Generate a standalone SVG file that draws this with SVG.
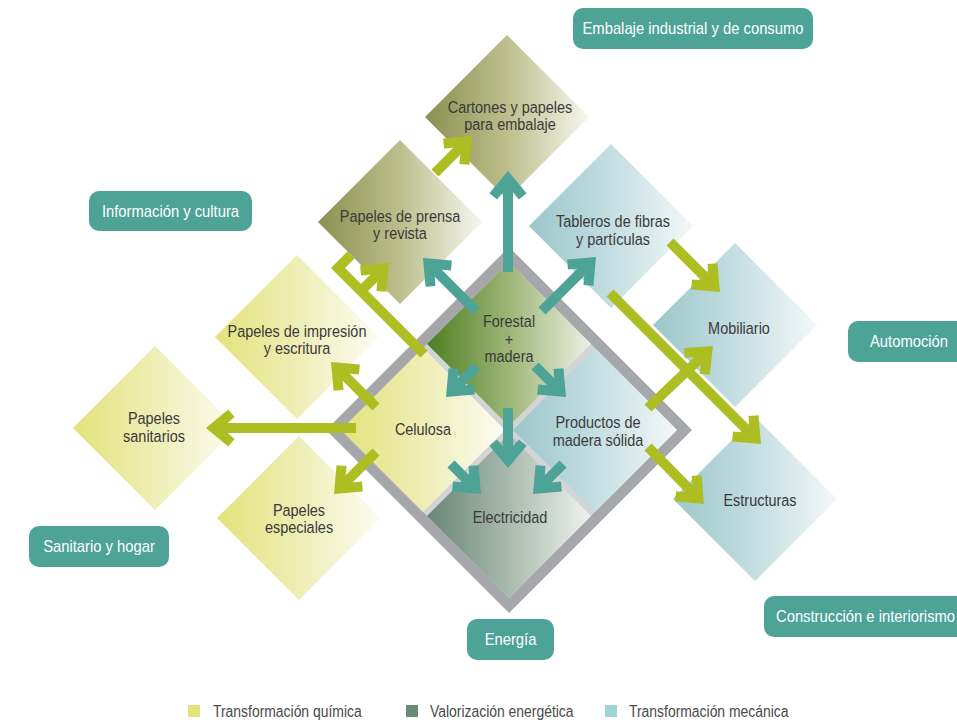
<svg xmlns="http://www.w3.org/2000/svg" width="957" height="722" viewBox="0 0 957 722">
<style>
.t{font-family:"Liberation Sans","Arial",sans-serif;font-size:17px;fill:#3a3a3a;text-anchor:middle}
.lb{font-family:"Liberation Sans","Arial",sans-serif;font-size:17px;fill:#ffffff;text-anchor:middle}
.lg{font-family:"Liberation Sans","Arial",sans-serif;font-size:16px;fill:#4a4a4a}
.box{fill:#4da396}
.ct{fill:none;stroke:#4ca396;stroke-width:10;marker-end:url(#hT)}
.cl{fill:none;stroke:#adbe23;stroke-width:10;marker-end:url(#hL)}
.cln{fill:none;stroke:#adbe23;stroke-width:10;stroke-linejoin:miter}
</style>
<defs>
<linearGradient id="gOl" x1="0" y1="0" x2="1" y2="0"><stop offset="0" stop-color="#8a9050"/><stop offset="0.5" stop-color="#bcbf8c"/><stop offset="1" stop-color="#f6f6ee"/></linearGradient>
<linearGradient id="gYe" x1="0" y1="0" x2="1" y2="0"><stop offset="0" stop-color="#e2e37b"/><stop offset="0.5" stop-color="#eeeeb6"/><stop offset="1" stop-color="#fcfcf3"/></linearGradient>
<linearGradient id="gTe" x1="0" y1="0" x2="1" y2="0"><stop offset="0" stop-color="#9cc6cb"/><stop offset="0.5" stop-color="#c4dee1"/><stop offset="1" stop-color="#f3f8f8"/></linearGradient>
<linearGradient id="gFo" x1="0" y1="0" x2="1" y2="0"><stop offset="0" stop-color="#4e7e22"/><stop offset="0.5" stop-color="#9db678"/><stop offset="1" stop-color="#eef0e2"/></linearGradient>
<linearGradient id="gEl" x1="0" y1="0" x2="1" y2="0"><stop offset="0" stop-color="#688677"/><stop offset="0.5" stop-color="#a9baae"/><stop offset="1" stop-color="#eff2ee"/></linearGradient>
<marker id="hT" markerUnits="userSpaceOnUse" viewBox="-42 -22 46 44" refX="-12" refY="0" markerWidth="46" markerHeight="44" orient="auto" overflow="visible"><path d="M0,0 L-22.2,-18.6 L-28.6,-10.9 L-15.6,0 L-28.6,10.9 L-22.2,18.6 Z" fill="#4ca396"/></marker>
<marker id="hL" markerUnits="userSpaceOnUse" viewBox="-42 -22 46 44" refX="-12" refY="0" markerWidth="46" markerHeight="44" orient="auto" overflow="visible"><path d="M0,0 L-22.2,-18.6 L-28.6,-10.9 L-15.6,0 L-28.6,10.9 L-22.2,18.6 Z" fill="#adbe23"/></marker>
</defs>
<rect width="957" height="722" fill="#ffffff"/>

<g id="nucleo">
<polygon points="509,247 692,430 509,613 326,430" fill="#a6a7aa"/>
<polygon points="509,262 677,430 509,598 341,430" fill="#d3d4d6"/>
</g>
<g id="forestal"><polygon points="509,262 591,344 509,426 427,344" fill="url(#gFo)"/><text class="t" transform="translate(509,327) scale(0.85,1)">Forestal</text><text class="t" transform="translate(509,345) scale(0.85,1)">+</text><text class="t" transform="translate(509,362) scale(0.85,1)">madera</text></g>
<g id="celulosa"><polygon points="423,348 505,430 423,512 341,430" fill="url(#gYe)"/><text class="t" transform="translate(423,435) scale(0.85,1)">Celulosa</text></g>
<g id="productos"><polygon points="595,348 677,430 595,512 513,430" fill="url(#gTe)"/><text class="t" transform="translate(598,428) scale(0.85,1)">Productos de</text><text class="t" transform="translate(598,446) scale(0.85,1)">madera sólida</text></g>
<g id="electricidad"><polygon points="509,434 591,516 509,598 427,516" fill="url(#gEl)"/><text class="t" transform="translate(510,523) scale(0.85,1)">Electricidad</text></g>

<g id="cartones"><polygon points="507,35 589,117 507,199 425,117" fill="url(#gOl)"/><text class="t" transform="translate(510,113) scale(0.85,1)">Cartones y papeles</text><text class="t" transform="translate(510,130) scale(0.85,1)">para embalaje</text></g>
<g id="prensa"><polygon points="400,140 482,222 400,304 318,222" fill="url(#gOl)"/><text class="t" transform="translate(400,222) scale(0.85,1)">Papeles de prensa</text><text class="t" transform="translate(400,239) scale(0.85,1)">y revista</text></g>
<g id="tableros"><polygon points="611,144 693,226 611,308 529,226" fill="url(#gTe)"/><text class="t" transform="translate(613,227) scale(0.85,1)">Tableros de fibras</text><text class="t" transform="translate(613,245) scale(0.85,1)">y partículas</text></g>
<g id="mobiliario"><polygon points="735,243 817,325 735,407 653,325" fill="url(#gTe)"/><text class="t" transform="translate(739,334) scale(0.85,1)">Mobiliario</text></g>
<g id="estructuras"><polygon points="755,417 837,499 755,581 673,499" fill="url(#gTe)"/><text class="t" transform="translate(760,506) scale(0.85,1)">Estructuras</text></g>
<g id="impresion"><polygon points="297,255 379,337 297,419 215,337" fill="url(#gYe)"/><text class="t" transform="translate(297,337) scale(0.85,1)">Papeles de impresión</text><text class="t" transform="translate(297,354) scale(0.85,1)">y escritura</text></g>
<g id="sanitarios"><polygon points="155,346 237,428 155,510 73,428" fill="url(#gYe)"/><text class="t" transform="translate(154,424) scale(0.85,1)">Papeles</text><text class="t" transform="translate(154,442) scale(0.85,1)">sanitarios</text></g>
<g id="especiales"><polygon points="299,436 381,518 299,600 217,518" fill="url(#gYe)"/><text class="t" transform="translate(299,516) scale(0.85,1)">Papeles</text><text class="t" transform="translate(299,533) scale(0.85,1)">especiales</text></g>

<g id="conectores">
<line class="ct" x1="508" y1="272" x2="508" y2="183"/>
<line class="ct" x1="476" y1="311" x2="431.5" y2="266.5"/>
<line class="ct" x1="542" y1="311" x2="587.5" y2="265.5"/>
<line class="ct" x1="477" y1="366" x2="454.5" y2="388.5"/>
<line class="ct" x1="535" y1="366" x2="557.5" y2="388.5"/>
<line class="ct" x1="508" y1="408" x2="508" y2="456"/>
<line class="ct" x1="451" y1="464" x2="472.5" y2="485.5"/>
<line class="ct" x1="563" y1="464" x2="541.5" y2="485.5"/>
<line class="cl" x1="435" y1="173" x2="463.5" y2="144.5"/>
<polyline class="cln" points="424,354 338,268 351,255"/>
<line class="cl" x1="361" y1="291" x2="380.5" y2="271.5"/>
<line class="cl" x1="376" y1="407" x2="339.5" y2="370.5"/>
<line class="cl" x1="356" y1="428" x2="218" y2="428"/>
<line class="cl" x1="376" y1="452" x2="342.5" y2="485.5"/>
<line class="cl" x1="670" y1="242" x2="711.5" y2="283.5"/>
<line class="cl" x1="610" y1="293" x2="752.5" y2="435.5"/>
<line class="cl" x1="648" y1="408" x2="704.3" y2="354.3"/>
<line class="cl" x1="648" y1="447" x2="695.5" y2="495.5"/>
</g>

<g id="embalaje"><rect class="box" x="573" y="8" width="240" height="41" rx="10"/><text class="lb" transform="translate(693,34) scale(0.87,1)">Embalaje industrial y de consumo</text></g>
<g id="informacion"><rect class="box" x="89" y="191" width="163" height="40" rx="10"/><text class="lb" transform="translate(170.5,217) scale(0.87,1)">Información y cultura</text></g>
<g id="automocion"><rect class="box" x="848" y="321" width="125" height="41" rx="10"/><text class="lb" transform="translate(870,347) scale(0.87,1)" style="text-anchor:start">Automoción</text></g>
<g id="sanitario"><rect class="box" x="29" y="526" width="140" height="41" rx="10"/><text class="lb" transform="translate(99,552) scale(0.87,1)">Sanitario y hogar</text></g>
<g id="energia"><rect class="box" x="467" y="619" width="87" height="41" rx="10"/><text class="lb" transform="translate(510.5,645) scale(0.87,1)">Energía</text></g>
<g id="construccion"><rect class="box" x="764" y="596" width="210" height="41" rx="10"/><text class="lb" transform="translate(776,622) scale(0.87,1)" style="text-anchor:start">Construcción e interiorismo</text></g>

<g id="leyenda">
<rect x="188" y="705" width="12" height="12" fill="#e3e478"/><text class="lg" transform="translate(213,717) scale(0.87,1)">Transformación química</text>
<rect x="406" y="705" width="12" height="12" fill="#6b8a75"/><text class="lg" transform="translate(430,717) scale(0.87,1)">Valorización energética</text>
<rect x="605" y="705" width="12" height="12" fill="#9dd5d2"/><text class="lg" transform="translate(629,717) scale(0.87,1)">Transformación mecánica</text>
</g>
</svg>
